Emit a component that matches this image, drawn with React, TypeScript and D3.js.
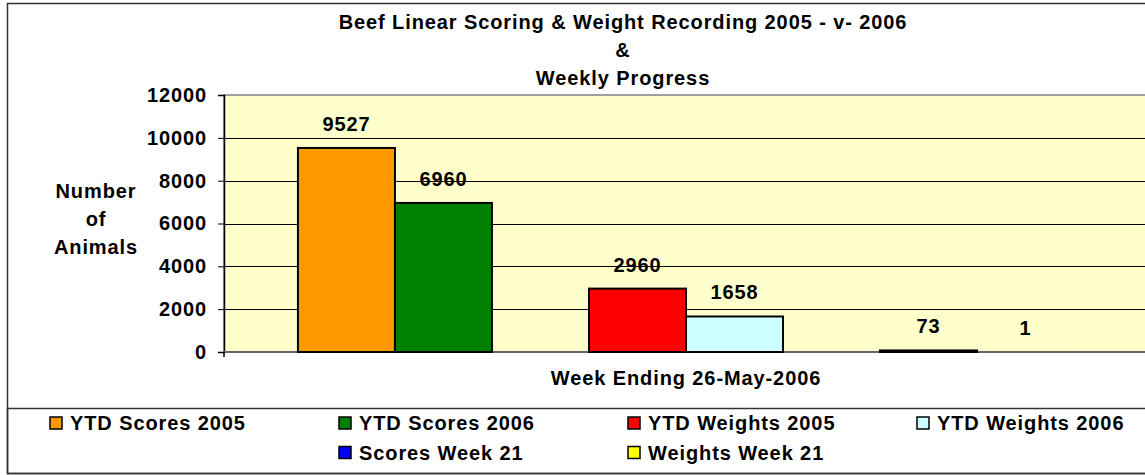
import React, { useEffect, useRef } from "react";
import * as d3 from "d3";

// chart data
const titleLines = ["Beef Linear Scoring & Weight Recording 2005 - v- 2006", "&", "Weekly Progress"];
const yTitleLines = ["Number", "of", "Animals"];
const xTitle = "Week Ending 26-May-2006";
const groups = ["YTD Scores", "YTD Weights", "Week 21"];
const seriesNames = [
  "YTD Scores 2005",
  "YTD Scores 2006",
  "YTD Weights 2005",
  "YTD Weights 2006",
  "Scores Week 21",
  "Weights Week 21",
];
const seriesValues = [9527, 6960, 2960, 1658, 73, 1];
const seriesColors = ["#FF9900", "#008000", "#FF0000", "#CCFFFF", "#0000FF", "#FFFF00"];
const yTicks = [0, 2000, 4000, 6000, 8000, 10000, 12000];

const W = 1145;
const H = 475;
const FONT = "'Liberation Sans', Arial, sans-serif";

const App = () => {
  const ref = useRef<SVGSVGElement | null>(null);

  useEffect(() => {
    if (!ref.current) return;
    const svg = d3.select(ref.current);
    svg.selectAll("*").remove();

    const plot = { left: 224, right: 1148, top: 95, bottom: 352 };

    // chart border
    svg.append("rect")
      .attr("x", 7.5).attr("y", 3.5)
      .attr("width", W + 10).attr("height", 470)
      .attr("fill", "#fff").attr("stroke", "#333").attr("stroke-width", 1.5);

    const txt = (sel: any) =>
      sel.attr("font-family", FONT).attr("font-weight", "bold")
        .attr("font-size", 20).attr("letter-spacing", 0.9).attr("fill", "#000");

    // title
    svg.append("g").selectAll("text").data(titleLines).join("text")
      .call(txt)
      .attr("x", 623).attr("y", (d, i) => 29 + i * 28)
      .attr("text-anchor", "middle")
      .text(d => d);

    // scales
    const x0 = d3.scaleBand<string>()
      .domain(groups)
      .range([plot.left, plot.right])
      .paddingInner(1 / 3)
      .paddingOuter(0.254);
    const x1 = d3.scaleBand<number>()
      .domain([0, 1])
      .range([0, x0.bandwidth()]);
    const y = d3.scaleLinear().domain([0, 12000]).range([plot.bottom, plot.top]);

    // plot area
    svg.append("rect")
      .attr("x", plot.left).attr("y", plot.top)
      .attr("width", plot.right - plot.left).attr("height", plot.bottom - plot.top)
      .attr("fill", "#FFFFCC").attr("stroke", "#808080").attr("stroke-width", 1.5);

    // gridlines
    svg.append("g").selectAll("line").data(yTicks.filter(t => t > 0 && t < 12000)).join("line")
      .attr("x1", plot.left).attr("x2", plot.right)
      .attr("y1", d => Math.round(y(d)) + 0.5).attr("y2", d => Math.round(y(d)) + 0.5)
      .attr("stroke", "#000").attr("stroke-width", 1);

    // y axis
    const yAxis = svg.append("g")
      .attr("transform", `translate(${plot.left},0)`)
      .call(d3.axisLeft(y).tickValues(yTicks).tickSize(6).tickPadding(11).tickFormat(d3.format("d")));
    yAxis.select(".domain").attr("stroke", "#000").attr("stroke-width", 1.5);
    yAxis.selectAll(".tick line").attr("stroke", "#000");
    yAxis.selectAll(".tick text")
      .attr("font-family", FONT).attr("font-weight", "bold")
      .attr("font-size", 20).attr("letter-spacing", 0.9).attr("fill", "#000");

    // bottom axis line
    svg.append("line")
      .attr("x1", plot.left).attr("x2", plot.right)
      .attr("y1", plot.bottom).attr("y2", plot.bottom)
      .attr("stroke", "#666").attr("stroke-width", 2);
    svg.append("line")
      .attr("x1", plot.left).attr("x2", plot.left)
      .attr("y1", plot.bottom).attr("y2", plot.bottom + 5)
      .attr("stroke", "#000").attr("stroke-width", 1.5);

    const bx = (i: number) => (x0(groups[Math.floor(i / 2)]) ?? 0) + (x1(i % 2) ?? 0);

    // bars (a bar less than a pixel tall gets no outline, as in the original)
    svg.append("g").selectAll("rect").data(seriesValues).join("rect")
      .attr("x", (d, i) => bx(i))
      .attr("y", d => y(d))
      .attr("width", x1.bandwidth())
      .attr("height", d => plot.bottom - y(d))
      .attr("fill", (d, i) => seriesColors[i])
      .attr("stroke", d => (plot.bottom - y(d) >= 1 ? "#000" : "none"))
      .attr("stroke-width", 2);

    // data labels
    svg.append("g").selectAll("text").data(seriesValues).join("text")
      .call(txt)
      .attr("x", (d, i) => bx(i) + x1.bandwidth() / 2)
      .attr("y", d => y(d) - 17)
      .attr("text-anchor", "middle")
      .text(d => d);

    // axis titles
    svg.append("g").selectAll("text").data(yTitleLines).join("text")
      .call(txt)
      .attr("x", 96).attr("y", (d, i) => 198 + i * 28)
      .attr("text-anchor", "middle")
      .text(d => d);
    svg.append("text")
      .call(txt)
      .attr("x", (plot.left + plot.right) / 2).attr("y", 385)
      .attr("text-anchor", "middle")
      .text(xTitle);

    // legend
    svg.append("rect")
      .attr("x", 7.5).attr("y", 408.5)
      .attr("width", W + 10).attr("height", 65)
      .attr("fill", "none").attr("stroke", "#333").attr("stroke-width", 1.5);

    const perRow = 4;
    const colStep = 289;
    const legend = svg.append("g");
    seriesNames.forEach((name, i) => {
      const row = Math.floor(i / perRow);
      const inRow = Math.min(perRow, seriesNames.length - row * perRow);
      const col = (i % perRow) + (perRow - inRow) / 2;
      const mx = 50 + col * colStep;
      const my = 417 + row * 29.5;
      legend.append("rect")
        .attr("x", mx).attr("y", my).attr("width", 12).attr("height", 12)
        .attr("fill", seriesColors[i]).attr("stroke", "#000").attr("stroke-width", 1.5);
      legend.append("text")
        .call(txt)
        .attr("x", mx + 20).attr("y", my + 13)
        .text(name);
    });
  }, []);

  return (
    <svg
      ref={ref}
      width={W}
      height={H}
      style={{ position: "absolute", left: 0, top: 0, background: "#fff" }}
    />
  );
};

export default App;
